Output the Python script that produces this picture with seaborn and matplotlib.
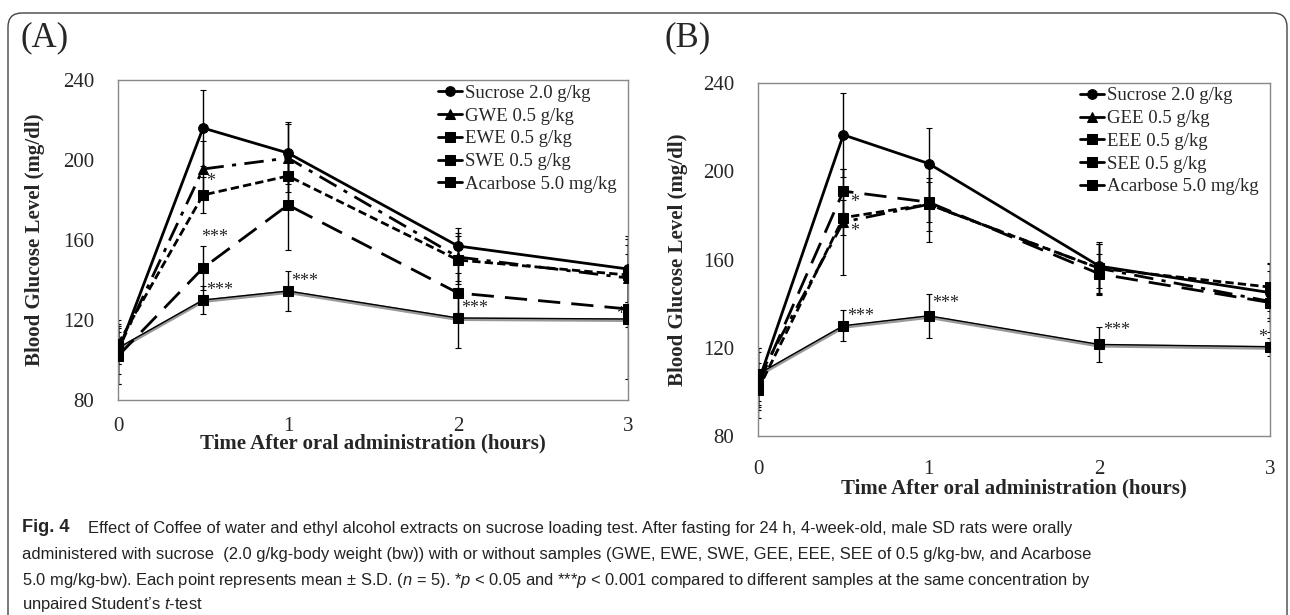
import seaborn as sns
import matplotlib.pyplot as plt
import matplotlib.patches as mpatches
import matplotlib.transforms as mtransforms
from matplotlib import font_manager

# data (mean and S.D.)
time = [0, 0.5, 1, 2, 3]

sucrose_a = [104, 216, 203.5, 157, 145.5]
sucrose_a_sd = [16, 19, 15.5, 9, 16.5]
gwe = [105, 195.5, 201, 151.5, 141]
gwe_sd = [12, 14, 17, 12, 12]
ewe = [108, 182.5, 192, 150, 142.5]
ewe_sd = [10, 9, 13, 12, 15]
swe = [102, 146, 177.5, 133.5, 125.5]
swe_sd = [14, 11, 22.5, 10, 35]
acarbose_a = [106, 130, 134.5, 121, 120.5]
acarbose_a_sd = [8, 7, 10, 15, 4]

sucrose_b = [104, 216.5, 203.5, 157, 145]
sucrose_b_sd = [16, 19, 16, 10, 13]
gee = [106, 177, 185, 156, 141]
gee_sd = [12, 24, 12, 11, 14]
eee = [103, 191, 186, 153.5, 140.5]
eee_sd = [10, 10, 9, 9, 7]
see = [101, 179, 185, 156, 147.5]
see_sd = [9, 8, 17, 12, 11]
acarbose_b = [108, 130, 134.5, 121.5, 120.5]
acarbose_b_sd = [12, 7, 10, 8, 4]

labels_a = ['Sucrose 2.0 g/kg', 'GWE 0.5 g/kg', 'EWE 0.5 g/kg', 'SWE 0.5 g/kg', 'Acarbose 5.0 mg/kg']
labels_b = ['Sucrose 2.0 g/kg', 'GEE 0.5 g/kg', 'EEE 0.5 g/kg', 'SEE 0.5 g/kg', 'Acarbose 5.0 mg/kg']

# significance marks: (x, y, text)
stars_a = [(0.52, 185, '*'), (0.49, 157, '***'), (0.52, 130.5, '***'),
           (1.02, 135, '***'), (2.02, 121.5, '***'), (2.93, 118.5, '*')]
stars_b = [(0.54, 182, '*'), (0.54, 169, '*'), (0.52, 130.5, '***'),
           (1.02, 136, '***'), (2.02, 124, '***'), (2.93, 121, '*')]

sns.set_style("white")
serif = ['Liberation Serif', 'DejaVu Serif']
plt.rcParams['font.family'] = serif

fig = plt.figure(figsize=(12.9, 6.15), dpi=100)
ax_a = fig.add_axes([0.0915, 0.3496, 0.3953, 0.5203])
ax_b = fig.add_axes([0.5876, 0.291, 0.3969, 0.574])

SOLID = '-'
DASHDOT = (0, (7, 3, 1.5, 3))
LONG = (0, (8, 4))
SHORT = (0, (3, 1.5))


def draw_panel(ax, series, sds, labels, stars, dashes):
    markers = ['o', '^', 's', 's', 's']
    widths = [2.0, 2.0, 2.0, 2.0, 1.0]
    # error bars first
    for vals, sd in zip(series, sds):
        ax.errorbar(time, vals, yerr=sd, fmt='none', ecolor='black',
                    elinewidth=1.0, capsize=2, capthick=0.8, zorder=2)
    for i, (vals, lab) in enumerate(zip(series, labels)):
        if i == 4:
            ax.plot(time, [v - 0.6 for v in vals], color='#999999', lw=2.6, zorder=3)
        sns.lineplot(x=time, y=vals, ax=ax, color='black', label=lab,
                     linestyle=dashes[i], marker=markers[i], lw=widths[i],
                     markersize=7, markeredgecolor='black', zorder=4)
    for x, y, t in stars:
        ax.text(x, y, t, fontsize=13, ha='left', va='bottom', family=serif)
    ax.set_xlim(0, 3)
    ax.set_ylim(80, 240)
    ax.set_yticks([80, 120, 160, 200, 240])
    ax.set_xticks([0, 1, 2, 3])
    for s in ax.spines.values():
        s.set_color('#888888')
        s.set_linewidth(1.0)
    ax.tick_params(axis='y', length=0, labelsize=15, pad=17)
    ax.tick_params(axis='x', direction='in', length=4, color='#888888', labelsize=15)
    ax.set_ylabel('Blood Glucose Level (mg/dl)', fontsize=15, fontweight='bold')
    ax.set_xlabel('Time After oral administration (hours)', fontsize=15, fontweight='bold')
    leg = ax.legend(loc='upper right', frameon=False, fontsize=13.5, handlelength=1.3,
                    handletextpad=0.15, labelspacing=0.3, borderaxespad=0.2,
                    bbox_to_anchor=(1.0, 1.02))
    for h in leg.legend_handles:
        h.set_linestyle('-')
        h.set_linewidth(2.0)


draw_panel(ax_a, [sucrose_a, gwe, ewe, swe, acarbose_a],
           [sucrose_a_sd, gwe_sd, ewe_sd, swe_sd, acarbose_a_sd], labels_a, stars_a,
           [SOLID, DASHDOT, SHORT, LONG, SOLID])
draw_panel(ax_b, [sucrose_b, gee, eee, see, acarbose_b],
           [sucrose_b_sd, gee_sd, eee_sd, see_sd, acarbose_b_sd], labels_b, stars_b,
           [SOLID, DASHDOT, LONG, SHORT, SOLID])

ax_a.tick_params(axis='x', pad=12)
ax_b.tick_params(axis='x', pad=17)
ax_a.yaxis.set_label_coords(-0.143, 0.5)
ax_b.yaxis.set_label_coords(-0.137, 0.5)
ax_a.xaxis.set_label_coords(0.5, -0.105)
ax_b.xaxis.set_label_coords(0.5, -0.12)

fig.text(20 / 1290, 1 - 38 / 615, '(A)', fontsize=25, va='center', ha='left', family=serif)
fig.text(665 / 1290, 1 - 38 / 615, '(B)', fontsize=25, va='center', ha='left', family=serif)

# caption font: a narrow sans if one is installed
fonts = font_manager.fontManager.ttflist
names = {f.name for f in fonts}
cap_kw = {}
if 'Liberation Sans Narrow' in names:
    cap_font, cap_size = 'Liberation Sans Narrow', 12.5
elif any(f.name == 'Noto Sans' and f.stretch in ('condensed', 'semi-condensed') for f in fonts):
    cap_font, cap_size = 'Noto Sans', 12.5
    cap_kw = {'stretch': 'condensed'}
else:
    cap_font, cap_size = 'Liberation Sans', 11.85
plt.rcParams['mathtext.fontset'] = 'custom'
plt.rcParams['mathtext.rm'] = 'Liberation Sans'
plt.rcParams['mathtext.it'] = 'Liberation Sans:italic'

caption = [
    'Effect of Coffee of water and ethyl alcohol extracts on sucrose loading test. After fasting for 24 h, 4-week-old, male SD rats were orally',
    'administered with sucrose  (2.0 g/kg-body weight (bw)) with or without samples (GWE, EWE, SWE, GEE, EEE, SEE of 0.5 g/kg-bw, and Acarbose',
    '5.0 mg/kg-bw). Each point represents mean ± S.D. ($n$ = 5). *$p$ < 0.05 and ***$p$ < 0.001 compared to different samples at the same concentration by',
    'unpaired Student\u2019s $t$-test',
]
fig.text(22 / 1290, 1 - 528 / 615, 'Fig. 4', fontsize=cap_size + 1.2, fontweight='bold',
         family=cap_font, va='center', ha='left', **cap_kw)
line_y = [528, 555, 580, 605]
for i, (line, y) in enumerate(zip(caption, line_y)):
    x0 = 88 if i == 0 else 22
    fig.text(x0 / 1290, 1 - y / 615, line, fontsize=cap_size, family=cap_font,
             va='center', ha='left', color='#222222', **cap_kw)

# rounded frame around the figure
frame = mpatches.FancyBboxPatch((8, -30), 1279, 632,
                                boxstyle='round,pad=0,rounding_size=14',
                                transform=mtransforms.IdentityTransform(),
                                fill=False, edgecolor='#444444', linewidth=1.0)
fig.add_artist(frame)

fig.savefig('out.png', dpi=100)
